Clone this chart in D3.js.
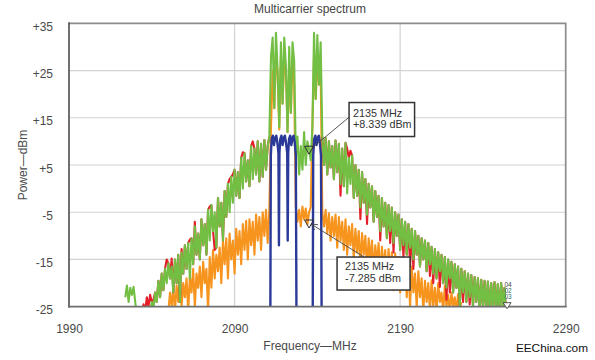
<!DOCTYPE html>
<html><head><meta charset="utf-8">
<script src="https://cdn.jsdelivr.net/npm/d3@7"></script>
<style>
body{margin:0;background:#fff;}
svg{display:block;font-family:"Liberation Sans",Arial,Helvetica,sans-serif;}
</style>
</head><body>
<svg id="chart" width="595" height="360"></svg>
<script>
// ---------- data ----------
const yTicks = [35, 25, 15, 5, -5, -15, -25];
const yTickLabels = ["+35", "+25", "+15", "+5", "-5", "-15", "-25"];
const xTicks = [1990, 2090, 2190, 2290];
const xTickLabels = ["1990", "2090", "2190", "2290"];

const stepMHz = 1;          // trace sample spacing
const greenStartMHz = 2024;
const greenDbm = [
  -23, -20.5, -24, -21, -22.5, -20.8, -24, -27, -27, -27,      // 2024
  -27, -27, -27, -26, -25.5, -26, -24, -25.5, -22, -24,        // 2034
  -19.5, -23, -18, -21.5, -17, -20, -15.8, -19, -16.5, -22,    // 2044
  -15, -20, -14, -24, -13.5, -18, -12, -17, -11.5, -19,        // 2054
  -10.5, -16, -8, -14, -9.5, -15, -6.5, -12, -7.5, -14,        // 2064
  -4.5, -11, -3.5, -9, -5, -12.5, -2, -8, -3, -11,             // 2074
  -0.5, -6, 1, -5, 2.5, -3, 4, -1.5, 3.5, -2,                  // 2084
  6.5, 0, 7.5, 1.5, 6, 0.5, 9, 2, 8.5, 3,                      // 2094
  10, 1.5, 9.5, 2.5, 10.3, 4, 9, 11, 28, 32,                   // 2104
  17, 33, 25, 13, 31, 18, 32, 26, 12, 30,                      // 2114
  16, 31, 27, 7, 11, 3, 9, 4, 12, 5,                           // 2124
  10, 8.3, 6, 13, 33, 19, 32.5, 22, 31, 11,                    // 2134
  5, 10.7, 3, 10, 4.5, 9, 2, 10.2, 3.5, 9.5,                   // 2144
  1, 8.5, 0.5, 9.7, -1, 6.5, 1, 7, -2, 5,                      // 2154
  -1.5, 4, -4, 3.5, -3, 2, -5.5, 1, -4, 0.5,                   // 2164
  -7, -0.5, -6, -1.5, -9, -2, -8, -3, -10.5, -3.5,             // 2174
  -9, -4, -11.5, -5, -10, -5.5, -13, -6.5, -12, -7,            // 2184
  -14, -7.5, -12.5, -8.5, -15, -9, -14, -10, -16.5, -10.5,     // 2194
  -15, -11, -17.5, -11.5, -16, -12.3, -18, -12.8, -19, -13.5,  // 2204
  -17.5, -14, -20, -14.5, -21, -15, -19, -15.5, -22, -16,      // 2214
  -21, -16.5, -25, -17, -22, -17.5, -24, -18, -23, -18.3,      // 2224
  -25, -18.7, -24, -19, -26, -19.3, -25, -19.5, -26, -19.7,    // 2234
  -26, -20, -25.5, -19.8, -26, -20.2, -26, -20, -25, -21,      // 2244
  -26                                                          // 2254
];

const orangeStartMHz = 2050;
const orangeDbm = [
  -26, -22, -25, -21, -26, -20.5, -24, -19.5, -25, -20,        // 2050
  -23, -19, -26, -18.5, -22, -17, -25, -18, -21, -16.5,        // 2060
  -23, -15.5, -20, -17, -26, -14.5, -21, -13, -19, -14,        // 2070
  -17.5, -12.5, -20, -11, -16, -10.5, -19, -9.5, -15, -11,     // 2080
  -18, -8.5, -14, -9, -16, -7.5, -13, -6.8, -15, -6.5,         // 2090
  -12, -7, -14, -5.5, -11, -6, -13, -5, -10, -4.5,             // 2100
  -11.5, -4.3, 13, 25, 17, 29, 24, 12.5, 28, 18,               // 2110
  27, 25, 12, 25, 16, 28, 22, -4, -7, -4.5,                    // 2120
  -8, -3.8, -6.5, -4.2, -7.5, -5, -3.9, 13, 28, 19,            // 2130
  27, 22, 25, -5, -8, -4.5, -9.5, -5.2, -11, -6,               // 2140
  -10, -5.5, -12.5, -6, -11, -7, -13, -6.5, -14, -8,           // 2150
  -12, -7.5, -15, -8.5, -13.5, -9, -16.5, -9.4, -14, -10,      // 2160
  -17, -10.5, -15.5, -11, -18, -12, -16, -11.5, -19, -12.3,    // 2170
  -17, -13, -20, -12.8, -18, -13.5, -21.5, -13.7, -19, -14.5,  // 2180
  -22, -15, -20, -15.5, -23, -16, -25, -16.5, -22, -18,        // 2190
  -25, -17.5, -23, -19, -26, -19.5, -24, -20, -26, -19.4,      // 2200
  -25, -21, -26, -20, -24, -22, -26, -20.5, -25, -22.5,        // 2210
  -26, -22, -25, -23, -26, -22.3, -25.5, -24                   // 2220
];

// red (max-hold) trace, skirts only; mostly hidden behind green
const redLeftStartMHz = 2034;
const redLeftDbm = [
  -27, -24.5, -26, -23, -25, -22.5, -24, -23.5, -22, -24,      // 2034
  -19.5, -23, -18, -21.5, -17, -15, -15.8, -19, -14.8, -22,    // 2044
  -15, -20, -14, -24, -12.8, -18, -12, -17, -11.5, -10.8,      // 2054
  -10.5, -16, -7, -14, -9.5, -15, -6.5, -12, -7.5, -14,        // 2064
  -4.5, -3.8, -3.5, -9, -13, -12.5, -2, -8, -3, -11,           // 2074
  -0.5, -6, 1, 2, 2.5, 3, 4, -1.5, 3.5, -2,                    // 2084
  6.5, 7.7, 7.5, 1.5, 6, 0.5, 9, 10, 8.5, 3,                   // 2094
  10, 1.5, 9.5, 2.5, 10.3, 4, 9, 11                            // 2104
];
const redRightStartMHz = 2143;
const redRightDbm = [
  11,                                                          // 2143
  5, 10.7, 3, 10, 4.5, 9, 2, 10.2, 3.5, 9.5,                   // 2144
  -1.5, 8.5, 0.5, 9.7, 8.5, 6.5, 8, 7, -2, 5,                  // 2154
  -1.5, 4, -6.5, 3.5, -3, 2, -7.5, 1, -4, 0.5,                 // 2164
  -7, -0.5, -6, -1.5, -11, -2, -8, -3, -10.5, -3.5,            // 2174
  -11.5, -4, -13.5, -5, -10, -5.5, -13, -6.5, -14.5, -7,       // 2184
  -14, -7.5, -16.5, -8.5, -17, -9, -14, -10, -16.5, -10.5,     // 2194
  -15, -11, -17.5, -11.5, -18.5, -12.3, -20, -12.8, -19, -13.5,// 2204
  -20.8, -14, -20, -14.5, -23.5, -15, -22, -15.5, -22, -16,    // 2214
  -21, -16.5, -25, -17, -24, -17.5, -24, -18, -24.5, -18.3,    // 2224
  -25, -18.7, -24, -19, -26, -19.3, -25, -19.5, -26, -19.7,    // 2234
  -26, -20, -25.5, -19.8, -26, -20.2, -26, -20, -25, -21,      // 2244
  -26                                                          // 2254
];

const blueMHz = [2111.6, 2111.9, 2112.4, 2113.1, 2113.8, 2114.5, 2115.2, 2115.9, 2116.5, 2116.8,
  2117.1, 2117.6, 2118.3, 2119.0, 2119.7, 2120.4, 2121.1, 2121.8, 2122.1,
  2122.4, 2122.9, 2123.6, 2124.3, 2125.0, 2125.7, 2126.4, 2127.0, 2127.4,
  2137.2, 2137.5, 2138.1, 2138.8, 2139.5, 2140.2, 2140.9, 2141.6, 2142.2, 2142.6];
const blueDbm = [-28, 7, 10.5, 11.2, 9.2, 10.8, 11.2, 9.6, 7.5, -12,
  7.5, 10.5, 11.2, 9.2, 10.8, 11.2, 9.6, 7.5, -11,
  7.5, 10.5, 11.2, 9.2, 10.8, 11.2, 9.6, 7, -28,
  -28, 7, 10.5, 11.2, 9.2, 10.8, 11.2, 9.5, 7, -28];

const markerMHz = [2135, 2135];
const markerDbm = [8.339, -7.285];
const markerLines = [["2135 MHz", "+8.339 dBm"], ["2135 MHz", "-7.285 dBm"]];

// ---------- drawing ----------
const svg = d3.select("#chart");
const P = {left: 69, right: 565.7, top: 23.3, bottom: 306.7};
const x = d3.scaleLinear().domain([1990, 2290]).range([P.left, P.right]);
const y = d3.scaleLinear().domain([-25, 35]).range([P.bottom, P.top]);

svg.append("defs").append("clipPath").attr("id", "plotclip")
  .append("rect").attr("x", P.left).attr("y", P.top)
  .attr("width", P.right - P.left).attr("height", P.bottom - P.top);

// grid
svg.append("g").selectAll("line").data(yTicks.slice(1, -1)).join("line")
  .attr("x1", P.left).attr("x2", P.right)
  .attr("y1", d => y(d)).attr("y2", d => y(d))
  .attr("stroke", "#d2d2d2").attr("stroke-width", 1.2);
svg.append("g").selectAll("line").data(xTicks.slice(1, -1)).join("line")
  .attr("y1", P.top).attr("y2", P.bottom)
  .attr("x1", d => x(d)).attr("x2", d => x(d))
  .attr("stroke", "#d2d2d2").attr("stroke-width", 1.2);

// frame top/right
svg.append("path")
  .attr("d", `M${P.left},${y(35)}H${x(2290)}V${y(-25)}`)
  .attr("fill", "none").attr("stroke", "#8c8c8c").attr("stroke-width", 1.7);

// axes labels
const yAxis = d3.axisLeft(y).tickValues(yTicks)
  .tickFormat((d, i) => yTickLabels[i]).tickSize(0).tickPadding(16);
const gy = svg.append("g").attr("transform", `translate(${P.left},0)`).call(yAxis);
gy.select(".domain").remove();
gy.selectAll("text").attr("font-size", 12).attr("fill", "#4a4a4a")
  .attr("font-family", "Liberation Sans, Arial, sans-serif").attr("dy", "0.6em");

const xAxis = d3.axisBottom(x).tickValues(xTicks)
  .tickFormat((d, i) => xTickLabels[i]).tickSize(0).tickPadding(18);
const gx = svg.append("g").attr("transform", `translate(0,${P.bottom})`).call(xAxis);
gx.select(".domain").remove();
gx.selectAll("text").attr("font-size", 12).attr("fill", "#4a4a4a")
  .attr("font-family", "Liberation Sans, Arial, sans-serif");

// traces
const plot = svg.append("g").attr("clip-path", "url(#plotclip)");
const line = d3.line().x(d => x(d[0])).y(d => y(d[1]));
const series = (start, step, vals) => vals.map((v, i) => [start + i * step, v]);

function trace(data, color, w) {
  plot.append("path").datum(data).attr("d", line)
    .attr("fill", "none").attr("stroke", color).attr("stroke-width", w)
    .attr("stroke-linejoin", "round");
}
trace(series(orangeStartMHz, stepMHz, orangeDbm), "#f7941e", 2.1);
trace(series(redLeftStartMHz, stepMHz, redLeftDbm), "#e3202a", 2.1);
trace(series(redRightStartMHz, stepMHz, redRightDbm), "#e3202a", 2.1);
trace(series(greenStartMHz, stepMHz, greenDbm), "#72bf44", 2.1);
trace(blueMHz.map((f, i) => [f, blueDbm[i]]), "#2b3a98", 2.4);

// axis lines
svg.append("line").attr("x1", P.left).attr("x2", P.left).attr("y1", P.top - 1).attr("y2", P.bottom + 1)
  .attr("stroke", "#4d4d4d").attr("stroke-width", 1.6);
svg.append("line").attr("x1", P.left).attr("x2", P.right + 1).attr("y1", P.bottom).attr("y2", P.bottom)
  .attr("stroke", "#6e6e6e").attr("stroke-width", 1.8);

// markers
const mk = svg.append("g");
markerMHz.forEach((f, i) => {
  const mx = x(f), my = y(markerDbm[i]);
  mk.append("path")
    .attr("d", `M${mx - 4.5},${my - 3}L${mx + 4.5},${my - 3}L${mx},${my + 5}Z`)
    .attr("fill", "none").attr("stroke", "#2d2d2d").attr("stroke-width", 1);
});

// end-of-trace marker
const ex = x(greenStartMHz + (greenDbm.length - 1) * stepMHz) + 1;
mk.append("path").attr("d", `M${ex - 4},${P.bottom - 4}L${ex + 4},${P.bottom - 4}L${ex},${P.bottom + 2}Z`)
  .attr("fill", "#fff").attr("stroke", "#444").attr("stroke-width", 0.9);
["04", "02", "03"].forEach((t, i) => {
  mk.append("text").attr("x", ex + 1).attr("y", P.bottom - 20 + i * 6)
    .attr("text-anchor", "middle").attr("font-size", 6.5).attr("fill", i === 0 ? "#3c4a3c" : "#2e6a6a").text(t);
});

// annotation 1
{
  const mx = x(markerMHz[0]), my = y(markerDbm[0]);
  svg.append("line").attr("x1", mx + 40).attr("y1", my - 32).attr("x2", mx + 5).attr("y2", my - 3)
    .attr("stroke", "#444").attr("stroke-width", 0.9);
  svg.append("rect").attr("x", mx + 40).attr("y", my - 46.7).attr("width", 65.5).attr("height", 34)
    .attr("fill", "#fff").attr("stroke", "#333").attr("stroke-width", 1.5);
  markerLines[0].forEach((t, i) => {
    svg.append("text").attr("x", mx + 44).attr("y", my - 32.7 + i * 11.8)
      .attr("font-size", 10.8).attr("fill", "#333").text(t);
  });
}
// annotation 2
{
  const mx = x(markerMHz[1]), my = y(markerDbm[1]);
  const ax = mx + 2, ay = my + 1;
  svg.append("line").attr("x1", mx + 55).attr("y1", my + 34).attr("x2", ax).attr("y2", ay)
    .attr("stroke", "#444").attr("stroke-width", 0.9);
  const ang = Math.atan2((my + 34) - ay, (mx + 55) - ax);
  const L = 7, s = 0.45;
  svg.append("path")
    .attr("d", `M${ax + L * Math.cos(ang - s)},${ay + L * Math.sin(ang - s)}L${ax},${ay}L${ax + L * Math.cos(ang + s)},${ay + L * Math.sin(ang + s)}`)
    .attr("fill", "none").attr("stroke", "#444").attr("stroke-width", 0.9);
  svg.append("rect").attr("x", mx + 28).attr("y", my + 34).attr("width", 73).attr("height", 33)
    .attr("fill", "#fff").attr("stroke", "#333").attr("stroke-width", 1.5);
  markerLines[1].forEach((t, i) => {
    svg.append("text").attr("x", mx + 36).attr("y", my + 47 + i * 12)
      .attr("font-size", 10.8).attr("fill", "#333").text(t);
  });
}

// titles
svg.append("text").attr("x", 310).attr("y", 12.5).attr("text-anchor", "middle")
  .attr("font-size", 12).attr("fill", "#444").text("Multicarrier spectrum");
svg.append("text").attr("x", 310).attr("y", 350).attr("text-anchor", "middle")
  .attr("font-size", 12).attr("fill", "#4a4a4a").text("Frequency\u2014MHz");
svg.append("text").attr("transform", `translate(26.5,${(P.top + P.bottom) / 2}) rotate(-90)`)
  .attr("text-anchor", "middle").attr("font-size", 12).attr("fill", "#4a4a4a").text("Power\u2014dBm");
svg.append("text").attr("x", 588).attr("y", 351.5).attr("text-anchor", "end")
  .attr("font-size", 11.8).attr("fill", "#111").text("EEChina.com");
</script>
</body></html>
